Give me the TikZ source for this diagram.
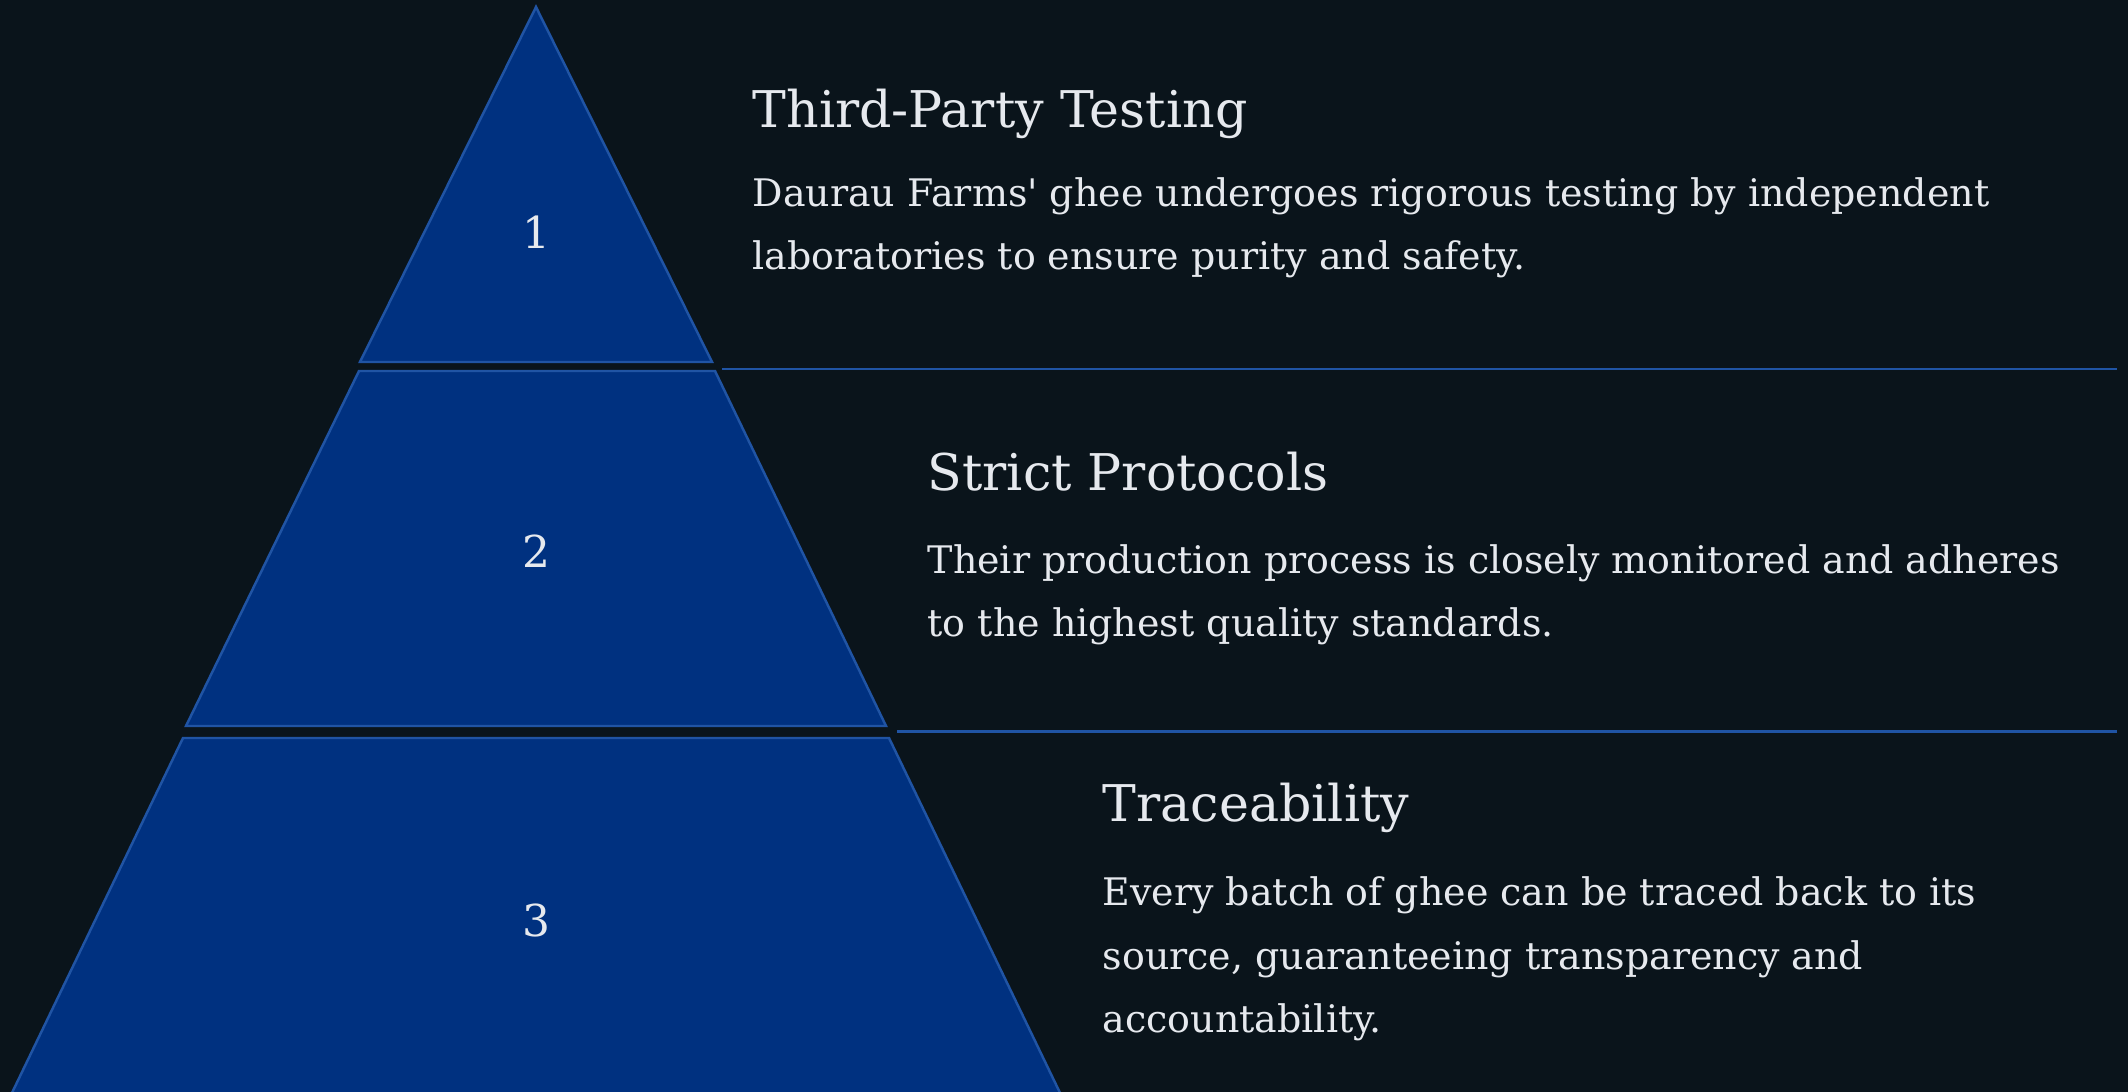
\documentclass[tikz,border=0pt]{standalone}
\usepackage{fontspec}
\setmainfont{DejaVu Serif}
\definecolor{bgnavy}{RGB}{10,20,27}
\definecolor{tierfill}{RGB}{0,49,128}
\definecolor{tieredge}{RGB}{32,84,164}
\definecolor{inkwhite}{RGB}{230,233,238}

\begin{document}
\begin{tikzpicture}[
  tier/.style={fill=tierfill, draw=tieredge, line width=0.7pt, line join=miter},
  rulesep/.style={draw=tieredge, line width=0.8pt},
  numlabel/.style={text=inkwhite, font=\fontsize{12.5}{15}\selectfont, inner sep=0pt},
  headline/.style={text=inkwhite, font=\fontsize{14.4}{17}\selectfont, anchor=base west, inner sep=0pt},
  blurb/.style={text=inkwhite, font=\fontsize{10.8}{18.2}\selectfont, anchor=base west, align=left, inner sep=0pt}
]
\useasboundingbox[fill=bgnavy] (0,0) rectangle (21.28,10.92);

% pyramid tiers
\draw[tier] (5.36,10.85) -- (7.12,7.30) -- (3.60,7.30) -- cycle;
\draw[tier] (3.59,7.21) -- (7.15,7.21) -- (8.86,3.66) -- (1.86,3.66) -- cycle;
\draw[tier] (1.83,3.54) -- (8.89,3.54) -- (10.62,-0.05) -- (0.10,-0.05) -- cycle;

% separators
\draw[rulesep] (7.22,7.23) -- (21.17,7.23);
\draw[rulesep] (8.97,3.605) -- (21.17,3.605);

% tier numbers
\node[numlabel] (n1) at (5.36,8.60) {1};
\node[numlabel] (n2) at (5.36,5.41) {2};
\node[numlabel] (n3) at (5.36,1.71) {3};

% texts (blurb base = last line)
\node[headline] (h1) at (7.52,9.64) {Third-Party Testing};
\node[blurb] (b1) at (7.52,8.22) {Daurau Farms\textquotesingle{} ghee undergoes rigorous testing by independent\\laboratories to ensure purity and safety.};

\node[headline] (h2) at (9.27,6.01) {Strict Protocols};
\node[blurb] (b2) at (9.27,4.55) {Their production process is closely monitored and adheres\\to the highest quality standards.};

\node[headline] (h3) at (11.02,2.70) {Traceability};
\node[blurb] (b3) at (11.02,0.59) {Every batch of ghee can be traced back to its\\source, guaranteeing transparency and\\accountability.};
\end{tikzpicture}
\end{document}
